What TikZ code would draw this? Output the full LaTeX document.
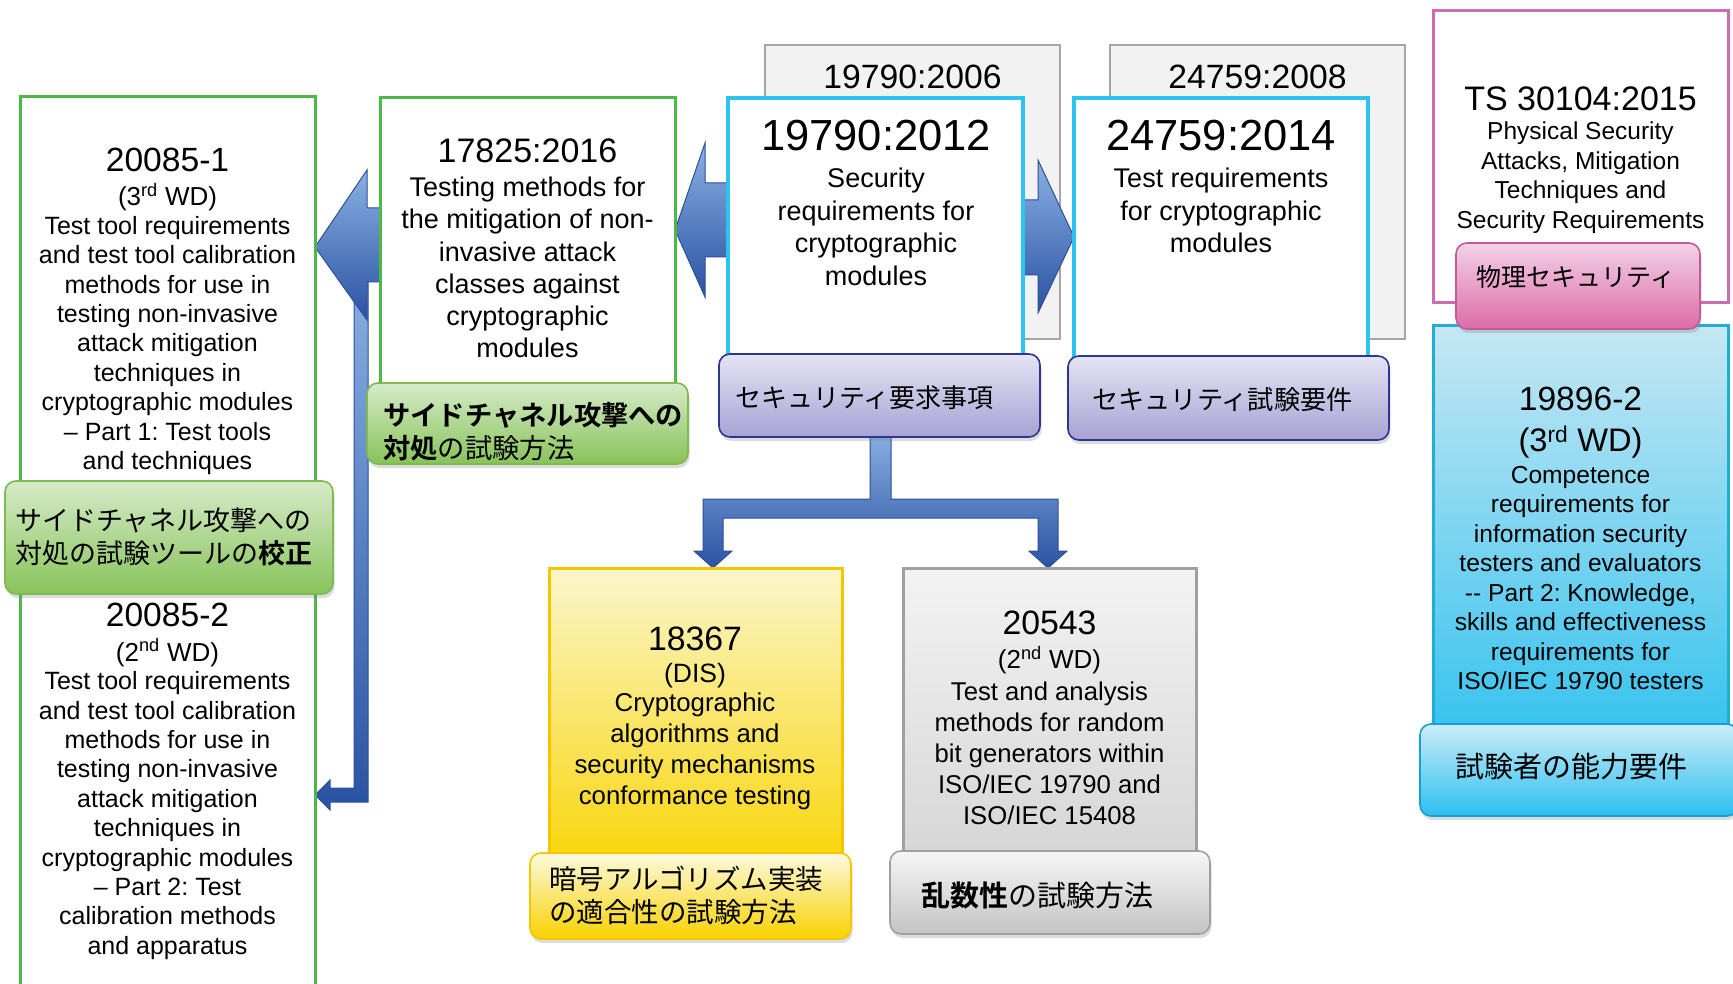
\documentclass[tikz,border=0pt]{standalone}
\usepackage{fontspec}
\setmainfont{Liberation Sans}
\newfontfamily\jp{Noto Sans CJK JP}[BoldFont={Noto Sans CJK JP Bold}]
\usetikzlibrary{shadows,calc}
\pgfdeclarelayer{bg}
\pgfsetlayers{bg,main}
\frenchspacing

\definecolor{grnline}{HTML}{4DB848}
\definecolor{cynline}{HTML}{2CC3EE}
\definecolor{oldfill}{HTML}{F2F2F2}
\definecolor{oldline}{HTML}{A5A5A5}
\definecolor{pnkline}{HTML}{CC6DB3}
\definecolor{arrtop}{HTML}{8AB1E2}
\definecolor{arrbot}{HTML}{2A52A3}
\definecolor{arredge}{HTML}{2D4F9A}
\definecolor{glbtop}{HTML}{D6EBC9}
\definecolor{glbbot}{HTML}{88C35A}
\definecolor{glbline}{HTML}{7DBA50}
\definecolor{vlbtop}{HTML}{E5E3F4}
\definecolor{vlbbot}{HTML}{A7A3D4}
\definecolor{vlbline}{HTML}{30358F}
\definecolor{plbtop}{HTML}{F3D1E7}
\definecolor{plbbot}{HTML}{DC6CA7}
\definecolor{plbline}{HTML}{C25C98}
\definecolor{cbxtop}{HTML}{C6E7F3}
\definecolor{cbxbot}{HTML}{2BC0EE}
\definecolor{cbxline}{HTML}{1FAED6}
\definecolor{clbtop}{HTML}{CBEDF9}
\definecolor{clbbot}{HTML}{2CBFEF}
\definecolor{clbline}{HTML}{1A9FD0}
\definecolor{ybxtop}{HTML}{FAF6CC}
\definecolor{ybxmid}{HTML}{F7EFA0}
\definecolor{ybxbot}{HTML}{F9D400}
\definecolor{ybxline}{HTML}{F5C500}
\definecolor{ylbtop}{HTML}{FDFADF}
\definecolor{ylbbot}{HTML}{F8D100}
\definecolor{gbxtop}{HTML}{F3F3F3}
\definecolor{gbxbot}{HTML}{D4D4D4}
\definecolor{gbxline}{HTML}{A0A0A0}
\definecolor{glbxtop}{HTML}{F6F6F6}
\definecolor{glbxbot}{HTML}{C4C4C4}

\tikzset{
  fnt/.style 2 args={font=\fontsize{#1}{#2}\selectfont},
  jfnt/.style 2 args={font=\jp\fontsize{#1}{#2}\selectfont},
  stdbox/.style={anchor=north west, inner sep=0pt, outer sep=0pt, line width=3pt},
  lblbox/.style={anchor=north west, inner sep=0pt, outer sep=0pt, rounded corners=11pt, line width=1.6pt,
    drop shadow={opacity=0.28, shadow xshift=1.5pt, shadow yshift=-4pt}},
  txt/.style={inner sep=0pt, align=center, text=black},
  ltxt/.style={inner sep=0pt, align=left, anchor=west, text=black},
  blockarrow/.style={draw=arredge, line width=1pt, line join=miter, top color=arrtop, bottom color=arrbot},
}

\begin{document}
\begin{tikzpicture}[x=1pt,y=-1pt]
\useasboundingbox (0,0) rectangle (1733,984);

% ---------- main boxes ----------
\node[stdbox, draw=grnline, fill=white, minimum width=295pt, minimum height=910pt] (b20085) at (20,97) {};
\node[stdbox, draw=grnline, fill=white, minimum width=295pt, minimum height=320pt] (b17825) at (380,98) {};
\node[stdbox, line width=3.5pt, draw=cynline, fill=white, minimum width=295pt, minimum height=280pt] (b19790) at (728,98) {};
\node[stdbox, line width=3.5pt, draw=cynline, fill=white, minimum width=294pt, minimum height=280pt] (b24759) at (1074,98) {};
\node[stdbox, draw=pnkline, fill=white, minimum width=295pt, minimum height=292pt] (bTS) at (1433,11) {};
\node[stdbox, draw=cbxline, top color=cbxtop, bottom color=cbxbot, minimum width=295pt, minimum height=440pt] (b19896) at (1433,326) {};
\node[stdbox, draw=ybxline, top color=ybxtop, middle color=ybxmid, bottom color=ybxbot, minimum width=293pt, minimum height=310pt] (b18367) at (549,568) {};
\node[stdbox, draw=gbxline, top color=gbxtop, bottom color=gbxbot, minimum width=293pt, minimum height=310pt] (b20543) at (903,568) {};

% ---------- background: old versions and arrows ----------
\begin{pgfonlayer}{bg}
\node[stdbox, line width=2.5pt, draw=oldline, fill=oldfill, minimum width=295pt, minimum height=294pt] (b2006) at (765,45) {};
\node[stdbox, line width=2.5pt, draw=oldline, fill=oldfill, minimum width=295pt, minimum height=294pt] (b2008) at (1110,45) {};
% 19790 -> 17825
\path[blockarrow] (740,183) -- (705,183) -- (705,143) -- (b17825.east |- 0,230) -- (705,297) -- (705,257) -- (740,257) -- cycle;
% 19790 -> 24759
\path[blockarrow] (1015,200) -- (1038,200) -- (1038,160) -- (b24759.west |- 0,237) -- (1038,313) -- (1038,275) -- (1015,275) -- cycle;
% elbow to 20085-2
\path[blockarrow] (354,265) -- (354,788) -- (330,788) -- (330,780) -- (b20085.east |- 0,795) -- (330,810) -- (330,802) -- (368,802) -- (368,265) -- cycle;
% 17825 -> 20085-1
\path[blockarrow] (390,208) -- (367,208) -- (367,170) -- (b20085.east |- 0,247) -- (367,320) -- (367,282) -- (390,282) -- cycle;
% tree from security requirements
\path[blockarrow] (870,430) -- (870,499) -- (703,499) -- (703,551) -- (694,551) -- (713,0 |- b18367.north) -- (732,551) -- (723,551) -- (723,518)
  -- (1038,518) -- (1038,551) -- (1029,551) -- (1048,0 |- b20543.north) -- (1067,551) -- (1058,551) -- (1058,499) -- (891,499) -- (891,430) -- cycle;
\end{pgfonlayer}

% ---------- titles and texts ----------
\node[txt, fnt={33.7}{40}, anchor=base] (t2006) at (912.5,89) {19790:2006};
\node[txt, fnt={33.7}{40}, anchor=base] (t2008) at (1257.5,89) {24759:2008};

\node[txt, fnt={33.6}{40}, anchor=base] (t20085a) at (167.5,172) {20085-1};
\node[txt, fnt={26}{30}, anchor=base] (s20085a) at (167.5,205.4) {(3\textsuperscript{rd} WD)};
\node[txt, fnt={25}{29.4}] (d20085a) at (167.5,345.5) {Test tool requirements\\and test tool calibration\\methods for use in\\testing non-invasive\\attack mitigation\\techniques in\\cryptographic modules\\– Part 1: Test tools\\and techniques};

\node[txt, fnt={33.6}{40}, anchor=base] (t20085b) at (167.5,626.5) {20085-2};
\node[txt, fnt={26}{30}, anchor=base] (s20085b) at (167.5,661) {(2\textsuperscript{nd} WD)};
\node[txt, fnt={25}{29.4}] (d20085b) at (167.5,815.5) {Test tool requirements\\and test tool calibration\\methods for use in\\testing non-invasive\\attack mitigation\\techniques in\\cryptographic modules\\– Part 2: Test\\calibration methods\\and apparatus};

\node[txt, fnt={34}{40}, anchor=base] (t17825) at (527.5,162.2) {17825:2016};
\node[txt, fnt={27}{32.2}] (d17825) at (527.5,267.5) {Testing methods for\\the mitigation of non-\\invasive attack\\classes against\\cryptographic\\modules};

\node[txt, fnt={43.5}{50}, anchor=base] (t19790) at (876,150.6) {19790:2012};
\node[txt, fnt={27}{32.7}] (d19790) at (876,227) {Security\\requirements for\\cryptographic\\modules};

\node[txt, fnt={43.5}{50}, anchor=base] (t24759) at (1221,150.6) {24759:2014};
\node[txt, fnt={27}{32.5}] (d24759) at (1221,210.5) {Test requirements\\for cryptographic\\modules};

\node[txt, fnt={34}{40}, anchor=base] (tTS) at (1580.5,110.2) {TS 30104:2015};
\node[txt, fnt={24.5}{29.5}] (dTS) at (1580.5,177.5) {Physical Security\\Attacks, Mitigation\\Techniques and\\Security Requirements};

\node[txt, fnt={33.6}{40}, anchor=base] (t19896) at (1580.5,410) {19896-2};
\node[txt, fnt={32.6}{38}, anchor=base] (s19896) at (1580.5,451.7) {(3\textsuperscript{rd} WD)};
\node[txt, fnt={24.6}{29.5}] (d19896) at (1580.5,578) {Competence\\requirements for\\information security\\testers and evaluators\\-{}- Part 2: Knowledge,\\skills and effectiveness\\requirements for\\ISO/IEC 19790 testers};

\node[txt, fnt={33.8}{40}, anchor=base] (t18367) at (695,650) {18367};
\node[txt, fnt={26.5}{31}, anchor=base] (s18367) at (695,682.5) {(DIS)};
\node[txt, fnt={25.8}{31}] (d18367) at (695,751.5) {Cryptographic\\algorithms and\\security mechanisms\\conformance testing};

\node[txt, fnt={33.8}{40}, anchor=base] (t20543) at (1049.5,634) {20543};
\node[txt, fnt={26}{31}, anchor=base] (s20543) at (1049.5,668.3) {(2\textsuperscript{nd} WD)};
\node[txt, fnt={25.7}{31}] (d20543) at (1049.5,753) {Test and analysis\\methods for random\\bit generators within\\ISO/IEC 19790 and\\ISO/IEC 15408};

% ---------- labels ----------
\node[lblbox, draw=glbline, top color=glbtop, bottom color=glbbot, minimum width=328pt, minimum height=113pt] (l20085) at (5,481) {};
\node[ltxt, jfnt={27}{33}] (k20085) at (15,536.5) {サイドチャネル攻撃への\\対処の試験ツールの{\bfseries 校正}};

\node[lblbox, draw=glbline, top color=glbtop, bottom color=glbbot, minimum width=321pt, minimum height=81pt] (l17825) at (367,383) {};
\node[ltxt, jfnt={27.3}{33}] (k17825) at (383,431.5) {{\bfseries サイドチャネル攻撃への}\\{\bfseries 対処}の試験方法};

\node[lblbox, draw=vlbline, top color=vlbtop, bottom color=vlbbot, minimum width=321pt, minimum height=83pt] (l19790) at (719,354) {};
\node[ltxt, jfnt={26}{30}] (k19790) at (735,398) {セキュリティ要求事項};

\node[lblbox, draw=vlbline, top color=vlbtop, bottom color=vlbbot, minimum width=321pt, minimum height=84pt] (l24759) at (1068,356) {};
\node[ltxt, jfnt={26.2}{30}] (k24759) at (1092,400) {セキュリティ試験要件};

\node[lblbox, draw=plbline, top color=plbtop, bottom color=plbbot, minimum width=244pt, minimum height=86pt] (lTS) at (1456,243) {};
\node[txt, jfnt={25}{30}] (kTS) at (1576,277) {物理セキュリティ};

\node[lblbox, draw=clbline, top color=clbtop, bottom color=clbbot, minimum width=318pt, minimum height=92pt] (l19896) at (1420,724) {};
\node[ltxt, jfnt={29}{34}] (k19896) at (1455,767) {試験者の能力要件};

\node[lblbox, draw=ybxline, top color=ylbtop, bottom color=ylbbot, minimum width=321pt, minimum height=86pt] (l18367) at (530,853) {};
\node[ltxt, jfnt={27.5}{33}] (k18367) at (549,895.5) {暗号アルゴリズム実装\\の適合性の試験方法};

\node[lblbox, draw=gbxline, top color=glbxtop, bottom color=glbxbot, minimum width=320pt, minimum height=83pt] (l20543) at (890,851) {};
\node[ltxt, jfnt={29}{34}] (k20543) at (921,896) {{\bfseries 乱数性}の試験方法};

\end{tikzpicture}
\end{document}
